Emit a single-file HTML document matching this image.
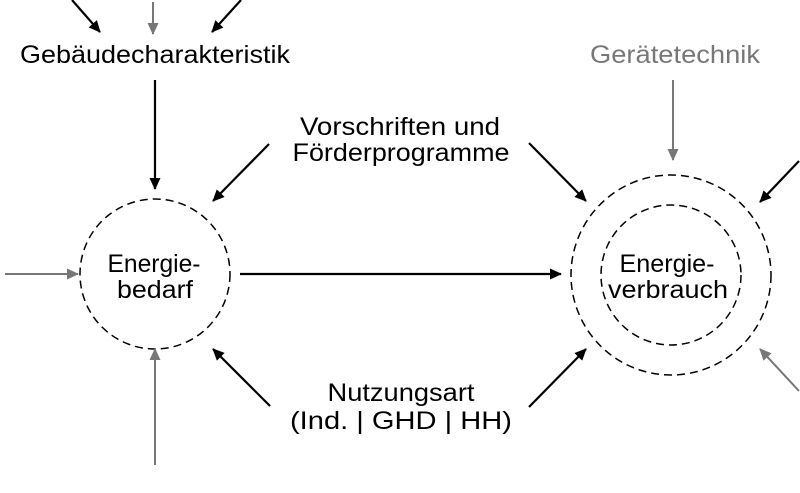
<!DOCTYPE html>
<html><head><meta charset="utf-8"><style>html,body{margin:0;padding:0;background:#fff}svg{display:block}</style></head>
<body>
<svg width="800" height="493" viewBox="0 0 800 493" xmlns="http://www.w3.org/2000/svg" font-family="Liberation Sans, sans-serif" font-size="25">
<defs>
<marker id="ab" markerWidth="12" markerHeight="11" refX="11" refY="5.5" orient="auto" markerUnits="userSpaceOnUse"><path d="M0,0 L12,5.5 L0,11 z" fill="#000"/></marker>
<marker id="ag" markerWidth="12" markerHeight="11" refX="11" refY="5.5" orient="auto" markerUnits="userSpaceOnUse"><path d="M0,0 L12,5.5 L0,11 z" fill="#777"/></marker>
</defs>
<g fill="none" stroke-dasharray="8,5" stroke="#000" stroke-width="1.5">
<circle cx="155" cy="274" r="75"/>
<circle cx="671" cy="275" r="100"/>
<circle cx="671" cy="275" r="70"/>
</g>
<g stroke="#000" stroke-width="2.2" marker-end="url(#ab)">
<line x1="72" y1="0" x2="100" y2="32"/>
<line x1="241" y1="0" x2="212" y2="32"/>
<line x1="155" y1="80" x2="155" y2="189"/>
<line x1="269" y1="144" x2="213" y2="201"/>
<line x1="529" y1="143" x2="586" y2="201"/>
<line x1="240" y1="274" x2="561" y2="274"/>
<line x1="270" y1="406" x2="213" y2="349"/>
<line x1="529" y1="407" x2="586" y2="349"/>
<line x1="799" y1="161" x2="760" y2="202"/>
</g>
<g stroke="#777" stroke-width="2" marker-end="url(#ag)">
<line x1="153" y1="2" x2="153" y2="34"/>
<line x1="5" y1="274" x2="78" y2="274"/>
<line x1="155" y1="465" x2="155" y2="349"/>
<line x1="673" y1="80" x2="673" y2="160"/>
<line x1="799" y1="391" x2="760" y2="349"/>
</g>
<g fill="#000" text-anchor="middle">
<text x="155" y="63" textLength="270" lengthAdjust="spacingAndGlyphs">Gebäudecharakteristik</text>
<text x="675" y="63" fill="#777" textLength="170" lengthAdjust="spacingAndGlyphs">Gerätetechnik</text>
<text x="400" y="135" textLength="200" lengthAdjust="spacingAndGlyphs">Vorschriften und</text>
<text x="401" y="161" textLength="217" lengthAdjust="spacingAndGlyphs">Förderprogramme</text>
<text x="154" y="272" textLength="93" lengthAdjust="spacingAndGlyphs">Energie-</text>
<text x="155" y="298" textLength="76" lengthAdjust="spacingAndGlyphs">bedarf</text>
<text x="667" y="272" textLength="95" lengthAdjust="spacingAndGlyphs">Energie-</text>
<text x="668" y="298" textLength="120" lengthAdjust="spacingAndGlyphs">verbrauch</text>
<text x="401" y="401" textLength="147" lengthAdjust="spacingAndGlyphs">Nutzungsart</text>
<text x="401" y="429" textLength="222" lengthAdjust="spacingAndGlyphs">(Ind. | GHD | HH)</text>
</g>
</svg>
</body></html>
